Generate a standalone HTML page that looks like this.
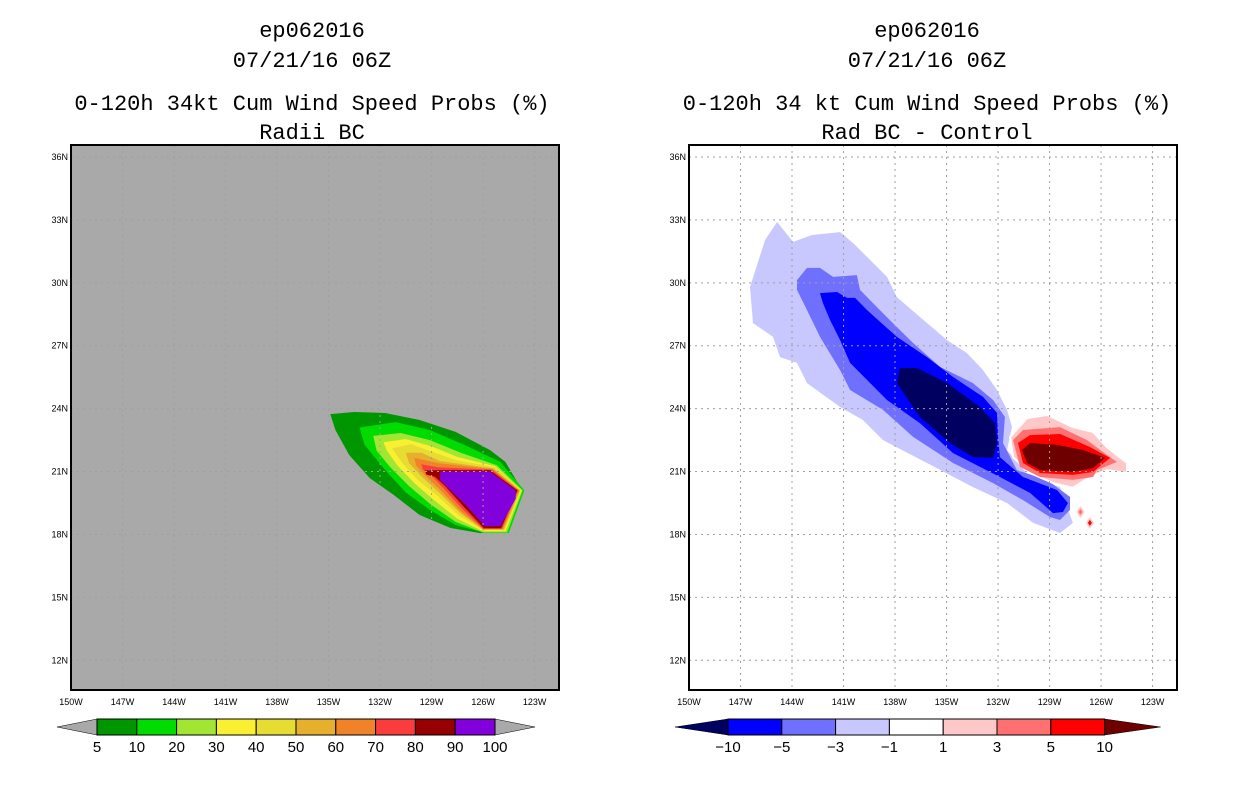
<!DOCTYPE html>
<html><head><meta charset="utf-8"><style>
html,body{margin:0;padding:0;background:#fff;}
svg{display:block;font-family:"Liberation Sans",sans-serif;}
</style></head><body>
<svg id="s" width="1236" height="800" viewBox="0 0 1236 800"></svg>
<script>
// ---- data ----
const latTicks = [36,33,30,27,24,21,18,15,12];
const lonTicks = [150,147,144,141,138,135,132,129,126,123];
const leftLevels = ["5","10","20","30","40","50","60","70","80","90","100"];
const leftColors = ["#009600","#00dc00","#a0e632","#faf032","#e6dc32","#e6af2d","#f08228","#fa3c3c","#960000","#8200dc"];
const rightLevels = ["-10","-5","-3","-1","1","3","5","10"];
const rightColors = ["#0000ff","#7070ff","#c8c8ff","#ffffff","#ffc8c8","#ff7070","#ff0000"];
// contour polygons, [lon degW, lat degN]
const leftContours = [
 [[134.9,23.74],[133.5,23.84],[131.7,23.79],[129.7,23.46],[127.6,22.89],[125.6,22.03],[124.7,21.46],[123.8,20.2],[124.7,18.12],[126.2,18.07],[127.9,18.31],[129.7,18.93],[131.2,19.88],[132.6,20.69],[133.8,21.79],[134.6,22.98]],
 [[133.2,23.1],[131.1,23.36],[129.1,22.98],[127.1,22.27],[125.0,21.46],[123.6,20.1],[124.5,18.07],[125.9,18.07],[127.6,18.45],[129.1,19.17],[130.5,20.0],[131.7,21.07],[132.9,22.27]],
 [[132.4,22.7],[130.8,22.84],[129.1,22.5],[127.3,21.9],[125.2,21.3],[123.7,20.1],[124.6,18.1],[126.0,18.1],[127.6,18.6],[129.0,19.4],[130.3,20.3],[131.4,21.2],[132.2,22.0]],
 [[131.8,22.4],[130.5,22.55],[129.0,22.2],[127.5,21.7],[125.3,21.25],[123.75,20.1],[124.7,18.15],[126.0,18.15],[127.5,18.75],[128.8,19.6],[130.0,20.45],[131.0,21.3],[131.6,22.0]],
 [[131.3,22.1],[130.2,22.3],[129.0,21.95],[127.6,21.55],[125.3,21.2],[123.8,20.1],[124.75,18.2],[126.0,18.2],[127.4,18.9],[128.6,19.8],[129.8,20.6],[130.7,21.4]],
 [[130.5,21.9],[129.6,21.9],[128.5,21.5],[125.4,21.15],[123.85,20.1],[124.8,18.22],[126.0,18.22],[127.3,19.0],[128.5,19.95],[129.5,20.7],[130.3,21.4]],
 [[130.0,21.65],[128.6,21.4],[125.45,21.12],[123.9,20.1],[124.85,18.25],[126.0,18.25],[127.3,19.1],[128.4,20.05],[129.3,20.75],[129.9,21.3]],
 [[129.6,21.35],[128.6,21.2],[125.5,21.1],[123.95,20.1],[124.9,18.27],[126.0,18.27],[127.2,19.2],[128.3,20.2],[129.0,20.8],[129.5,21.1]],
 [[129.4,21.05],[128.5,21.07],[125.6,21.07],[124.0,20.1],[124.95,18.3],[125.95,18.3],[127.1,19.3],[128.2,20.3],[128.8,20.75],[129.3,20.85]],
 [[128.5,21.0],[125.6,21.0],[124.1,20.1],[124.1,19.7],[125.0,18.4],[125.9,18.4],[127.0,19.4],[128.0,20.2],[128.5,20.6]]
];
const negContours = [
 [[146.45,29.8],[145.57,32.04],[144.87,32.9],[143.94,31.95],[142.84,32.28],[141.2,32.42],[140.45,31.9],[139.63,31.23],[138.47,30.28],[137.89,29.32],[136.55,28.37],[134.97,27.27],[133.81,26.65],[132.88,25.84],[132.06,24.89],[131.48,23.94],[131.19,23.12],[131.48,22.03],[130.14,20.74],[128.39,20.26],[127.64,18.55],[128.39,18.07],[129.96,18.55],[131.48,19.5],[133.46,20.26],[136.14,21.41],[138.7,22.5],[139.87,23.46],[141.2,24.08],[143.13,25.22],[143.71,26.18],[144.7,26.46],[145.11,27.42],[146.27,28.08]],
 [[143.71,30.13],[143.13,30.71],[142.37,30.71],[141.61,30.28],[140.22,30.37],[140.04,29.66],[138.88,28.7],[137.89,27.89],[136.95,27.13],[135.38,25.99],[133.46,25.22],[132.29,24.41],[131.6,23.6],[131.71,22.36],[130.9,21.07],[129.15,20.6],[127.81,19.79],[127.81,19.17],[128.39,18.69],[128.97,18.83],[130.55,19.64],[132.29,20.45],[134.62,21.41],[136.95,22.65],[138.7,23.94],[140.62,24.89],[141.2,25.84],[142.37,27.42],[143.13,28.7],[143.71,29.66]],
 [[142.37,29.51],[141.38,29.56],[140.8,29.28],[140.33,29.28],[139.63,28.7],[137.89,27.42],[136.14,26.46],[134.62,25.51],[132.88,24.56],[132.06,23.79],[132.0,22.65],[131.89,21.69],[130.55,20.74],[128.57,20.12],[127.93,19.5],[128.22,19.07],[128.8,19.02],[130.14,19.98],[131.89,20.74],[134.62,21.88],[136.55,23.31],[138.47,24.41],[140.62,26.18],[141.2,27.27],[141.79,28.23],[142.2,29.04]],
 [[137.71,25.94],[136.72,25.94],[134.97,25.22],[133.05,24.08],[132.18,23.31],[132.06,22.36],[132.29,21.65],[133.46,21.69],[134.8,22.36],[136.55,23.6],[137.89,25.22]]
];
const negColors = ["#c8c8ff","#7070ff","#0000ff","#000060"];
const posContours = [
 [[131.3,22.65],[130.31,23.55],[129.15,23.7],[127.64,23.12],[126.47,22.89],[125.66,22.17],[124.49,21.41],[124.49,20.93],[125.66,21.07],[126.65,20.74],[127.64,20.22],[128.8,20.45],[130.14,20.93],[131.13,21.69]],
 [[131.13,22.5],[130.55,22.98],[128.39,23.12],[126.82,22.5],[125.48,21.69],[125.07,21.46],[126.24,21.07],[126.47,20.74],[127.64,20.6],[129.56,20.74],[130.72,21.22]],
 [[130.84,22.36],[130.14,22.74],[128.39,22.79],[126.65,22.17],[125.48,21.65],[126.47,20.98],[127.64,20.84],[129.56,20.93],[130.55,21.41]],
 [[130.61,22.03],[130.14,22.36],[128.57,22.27],[127.05,22.03],[125.77,21.65],[126.47,21.17],[127.64,20.98],[129.56,21.07],[130.31,21.41]]
];
const posColors = ["#ffc8c8","#ff7070","#ff0000","#6e0000"];
const spots = [[127.2,19.07,"#ff7070"],[126.65,18.55,"#ff0000"]];

// ---- drawing ----
const NS="http://www.w3.org/2000/svg";
const svg=document.getElementById('s');
function el(tag,attrs,parent){const e=document.createElementNS(NS,tag);for(const k in attrs)e.setAttribute(k,attrs[k]);(parent||svg).appendChild(e);return e;}
const PY0=145,PY1=690;
function yOf(lat){return 157+(36-lat)*20.97;}
function makeX(x0){return w=>x0+(150-w)*17.17;}

function panel(x0,bg,titleLines,cx,name){
  const xOf=makeX(x0);
  const g=el('g',{});
  
  
  titleLines.forEach((t,i)=>{
    const tx=el('text',{x:cx,y:[37,67,110,139][i],'text-anchor':'middle','font-size':'22','fill':'#000','font-family':'"Liberation Mono",monospace'},g);
    tx.textContent=t;
    
    
  });
  const bgr=el('rect',{x:x0,y:PY0,width:488,height:PY1-PY0,fill:bg},g);
  
  
  return {g,xOf};
}
function poly(g,xOf,pts,fill,name,stroke){
  const p=el('polygon',{points:pts.map(q=>xOf(q[0]).toFixed(1)+','+yOf(q[1]).toFixed(1)).join(' '),fill:fill,stroke:stroke||'none','stroke-width':stroke?2:0},g);
  
  
}
function axes(g,xOf,x0){
  latTicks.forEach(l=>{
    const y=yOf(l);
    const gl=el('line',{x1:x0,x2:x0+488,y1:y,y2:y,stroke:'#a0a0a0','stroke-dasharray':'2,4','stroke-width':1},g);
    
    
    const t=el('text',{x:x0-3,y:y+3,'text-anchor':'end','font-size':'9'},g);
    t.textContent=l+'N';
    
    
  });
  lonTicks.forEach(w=>{
    const x=xOf(w);
    const gl=el('line',{x1:x,x2:x,y1:PY0,y2:PY1,stroke:'#a0a0a0','stroke-dasharray':'2,4','stroke-width':1},g);
    
    
    const t=el('text',{x:x,y:PY1+15,'text-anchor':'middle','font-size':'9'},g);
    t.textContent=w+'W';
    
    
  });
  const fr=el('rect',{x:x0,y:PY0,width:488,height:PY1-PY0,fill:'none',stroke:'#000','stroke-width':2},g);
  
  
}
function colorbar(bx,bw,colors,labels,loCol,hiCol,triL,triR,name){
  const g=el('g',{});
  
  
  const y0=719,y1=735,ym=727;
  const n=colors.length;
  const lt=el('polygon',{points:`${bx-triL},${ym} ${bx},${y0} ${bx},${y1}`,fill:loCol,stroke:'#000','stroke-width':0.5},g);
  
  
  const rt=el('polygon',{points:`${bx+bw*n+triR},${ym} ${bx+bw*n},${y0} ${bx+bw*n},${y1}`,fill:hiCol,stroke:'#000','stroke-width':0.5},g);
  
  
  colors.forEach((c,i)=>{
    const r=el('rect',{x:bx+i*bw,y:y0,width:bw,height:y1-y0,fill:c,stroke:'#000','stroke-width':1},g);
    
    
  });
  labels.forEach((l,i)=>{
    const t=el('text',{x:bx+i*bw,y:752,'text-anchor':'middle','font-size':'15'},g);
    t.textContent=l.replace('-','\u2212');
    
    
  });
}

// left panel
const L=panel(71,'#a9a9a9',['ep062016','07/21/16 06Z','0-120h 34kt Cum Wind Speed Probs (%)','Radii BC'],312,'left-panel');
leftContours.forEach((c,i)=>poly(L.g,L.xOf,c,leftColors[i],'contour-'+leftLevels[i]));
axes(L.g,L.xOf,71);
colorbar(97,39.8,leftColors,leftLevels,'#a9a9a9','#a9a9a9',40,40,'left-colorbar');

// right panel
const R=panel(689,'#ffffff',['ep062016','07/21/16 06Z','0-120h 34 kt Cum Wind Speed Probs (%)','Rad BC - Control'],927,'right-panel');
negContours.forEach((c,i)=>poly(R.g,R.xOf,c,negColors[i],'negative-contour-'+i));
posContours.forEach((c,i)=>poly(R.g,R.xOf,c,posColors[i],'positive-contour-'+i,i===0?'#ffffff':null));
spots.forEach(s=>{
  const x=R.xOf(s[0]),y=yOf(s[1]);
  const d=el('polygon',{points:`${x},${y-6} ${x+4},${y} ${x},${y+6} ${x-4},${y}`,fill:'#ffc8c8'},R.g);
  
  
  const d2=el('polygon',{points:`${x},${y-3} ${x+2},${y} ${x},${y+3} ${x-2},${y}`,fill:s[2]},R.g);
  
  
});
axes(R.g,R.xOf,689);
colorbar(728,53.8,rightColors,rightLevels,'#000060','#6e0000',53,56,'right-colorbar');
</script>
</body></html>
